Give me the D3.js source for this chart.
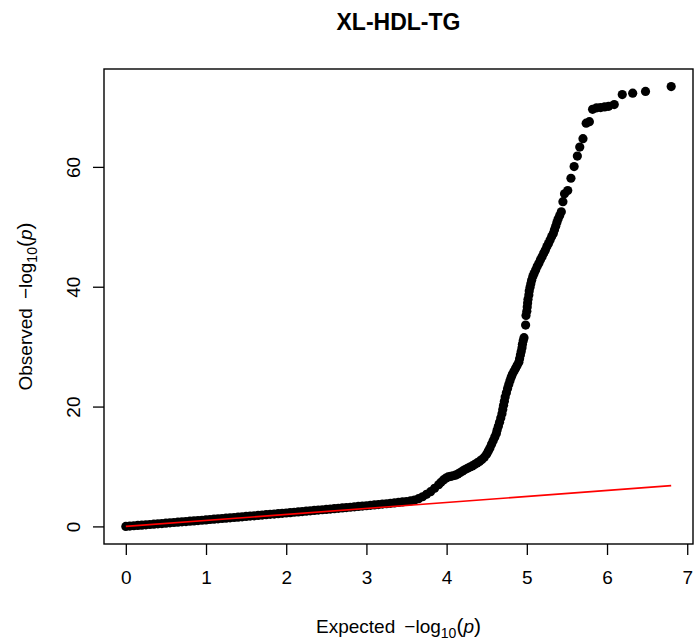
<!DOCTYPE html>
<html>
<head>
<meta charset="utf-8">
<script src="https://cdn.jsdelivr.net/npm/d3@7"></script>
<style>
  html, body { margin: 0; padding: 0; background: #fff; }
  svg { display: block; font-family: "Liberation Sans", Arial, Helvetica, sans-serif; }
</style>
</head>
<body>
<svg id="chart" width="696" height="641"></svg>
<script>
// QQ plot of association p-values: expected vs observed -log10(p)
const chartTitle = "XL-HDL-TG";

const expected = [
  0.00, 0.05, 0.10, 0.15, 0.20, 0.25, 0.30, 0.35, 0.40, 0.45,
  0.50, 0.55, 0.60, 0.65, 0.70, 0.75, 0.80, 0.85, 0.90, 0.95,
  1.00, 1.05, 1.10, 1.15, 1.20, 1.25, 1.30, 1.35, 1.40, 1.45,
  1.50, 1.55, 1.60, 1.65, 1.70, 1.75, 1.80, 1.85, 1.90, 1.95,
  2.00, 2.05, 2.10, 2.15, 2.20, 2.25, 2.30, 2.35, 2.40, 2.45,
  2.50, 2.55, 2.60, 2.65, 2.70, 2.75, 2.80, 2.85, 2.90, 2.95,
  3.00, 3.05, 3.10, 3.15, 3.20, 3.25, 3.30, 3.35, 3.40, 3.45,
  3.50, 3.55, 3.60, 3.65, 3.70, 3.75, 3.80, 3.85, 3.90, 3.93,
  3.96, 3.99, 4.02, 4.05, 4.08, 4.11, 4.14, 4.17, 4.20, 4.23,
  4.26, 4.29, 4.32, 4.35, 4.38, 4.41, 4.44, 4.47, 4.50, 4.52,
  4.54, 4.56, 4.58, 4.60, 4.62, 4.63, 4.645, 4.66, 4.675, 4.69,
  4.70, 4.71, 4.72, 4.73, 4.745, 4.76, 4.775, 4.79, 4.805, 4.82,
  4.84, 4.86, 4.88, 4.90, 4.91, 4.92, 4.93, 4.94, 4.945, 4.955,
  4.965, 4.985, 4.99, 5.00, 5.005, 5.01, 5.015, 5.025, 5.03, 5.04,
  5.05, 5.06, 5.075, 5.09, 5.11, 5.13, 5.15, 5.17, 5.19, 5.21,
  5.23, 5.25, 5.27, 5.29, 5.31, 5.33, 5.345, 5.36, 5.375, 5.39,
  5.41, 5.43, 5.45, 5.47, 5.51, 5.55, 5.59, 5.63, 5.66, 5.70,
  5.74, 5.78, 5.82, 5.87, 5.92, 5.97, 6.02, 6.09, 6.19, 6.32,
  6.48, 6.80
];

const observed = [
  0.00, 0.05, 0.11, 0.16, 0.21, 0.27, 0.32, 0.38, 0.43, 0.48,
  0.54, 0.59, 0.65, 0.70, 0.76, 0.81, 0.87, 0.92, 0.98, 1.03,
  1.09, 1.15, 1.20, 1.26, 1.32, 1.37, 1.43, 1.49, 1.54, 1.60,
  1.66, 1.72, 1.77, 1.83, 1.89, 1.95, 2.01, 2.06, 2.12, 2.18,
  2.24, 2.30, 2.36, 2.42, 2.48, 2.54, 2.60, 2.66, 2.72, 2.78,
  2.84, 2.90, 2.96, 3.02, 3.08, 3.14, 3.20, 3.27, 3.33, 3.39,
  3.45, 3.52, 3.58, 3.65, 3.72, 3.78, 3.85, 3.92, 4.00, 4.08,
  4.16, 4.26, 4.40, 4.62, 4.95, 5.35, 5.80, 6.35, 6.95, 7.35,
  7.75, 8.05, 8.25, 8.35, 8.45, 8.55, 8.75, 9.00, 9.25, 9.50,
  9.70, 9.90, 10.10, 10.35, 10.60, 10.85, 11.15, 11.55, 12.10, 12.60,
  13.10, 13.70, 14.30, 14.90, 15.50, 16.10, 16.70, 17.40, 18.10, 18.80,
  19.50, 20.20, 20.90, 21.60, 22.30, 23.00, 23.70, 24.30, 24.90, 25.40,
  25.90, 26.40, 26.90, 27.40, 28.00, 28.60, 29.20, 29.80, 30.40, 31.00,
  31.50, 33.60, 35.20, 35.90, 36.60, 37.30, 37.90, 38.60, 39.30, 39.90,
  40.50, 41.10, 41.70, 42.20, 42.80, 43.40, 43.90, 44.50, 45.00, 45.60,
  46.10, 46.70, 47.20, 47.80, 48.40, 48.90, 49.50, 50.10, 50.70, 51.30,
  51.90, 52.50, 54.20, 55.50, 56.05, 58.10, 60.05, 61.80, 63.30, 64.70,
  67.30, 67.55, 69.60, 69.85, 69.90, 70.00, 70.10, 70.40, 72.06, 72.30,
  72.60, 73.40
];

const xTicks = [0, 1, 2, 3, 4, 5, 6, 7];
const yTicks = [0, 20, 40, 60];

const svg = d3.select("#chart");
const plot = { left: 104, right: 693, top: 69, bottom: 544 };

// R-style axis ranges: data extent padded by 4% on each side
const xMax = d3.max(expected), yMax = d3.max(observed);
const x = d3.scaleLinear()
  .domain([-0.04 * xMax, 1.04 * xMax])
  .range([plot.left, plot.right]);
const y = d3.scaleLinear()
  .domain([-0.04 * yMax, 1.04 * yMax])
  .range([plot.bottom, plot.top]);

// points
const pts = d3.zip(expected, observed);
svg.append("g")
  .selectAll("circle")
  .data(pts)
  .join("circle")
  .attr("cx", d => x(d[0]))
  .attr("cy", d => y(d[1]))
  .attr("r", 4.6)
  .attr("fill", "#000");

// y = x reference line up to the largest expected value
const refLine = [[0, 0], [xMax, xMax]];
svg.append("path")
  .datum(refLine)
  .attr("d", d3.line().x(d => x(d[0])).y(d => y(d[1])))
  .attr("stroke", "#ff0000")
  .attr("stroke-width", 1.6)
  .attr("fill", "none");

// frame
svg.append("rect")
  .attr("x", plot.left).attr("y", plot.top)
  .attr("width", plot.right - plot.left)
  .attr("height", plot.bottom - plot.top)
  .attr("fill", "none")
  .attr("stroke", "#000")
  .attr("stroke-width", 1.4);

// x axis
const gx = svg.append("g")
  .attr("transform", `translate(0,${plot.bottom})`)
  .call(d3.axisBottom(x).tickValues(xTicks).tickFormat(d3.format("d")).tickSize(11).tickSizeOuter(0));
gx.select(".domain").remove();
gx.selectAll(".tick line").attr("stroke", "#000").attr("stroke-width", 1.3);
gx.selectAll(".tick text")
  .attr("y", 40).attr("dy", null)
  .attr("fill", "#000")
  .style("font-size", "19px")
  .style("font-family", "'Liberation Sans', Arial, sans-serif");

// y axis with labels parallel to the axis
const gy = svg.append("g")
  .attr("transform", `translate(${plot.left},0)`)
  .call(d3.axisLeft(y).tickValues(yTicks).tickFormat(d3.format("d")).tickSize(11).tickSizeOuter(0));
gy.select(".domain").remove();
gy.selectAll(".tick line").attr("stroke", "#000").attr("stroke-width", 1.3);
gy.selectAll(".tick text")
  .attr("x", null).attr("dy", null)
  .attr("transform", "translate(-24,0) rotate(-90)")
  .attr("text-anchor", "middle")
  .attr("fill", "#000")
  .style("font-size", "19px")
  .style("font-family", "'Liberation Sans', Arial, sans-serif");

// title
svg.append("text")
  .attr("x", (plot.left + plot.right) / 2)
  .attr("y", 30)
  .attr("text-anchor", "middle")
  .style("font-size", "23px")
  .style("font-weight", "bold")
  .text(chartTitle);

// axis titles:  <word>  -log10(p)
function axisTitle(sel, word) {
  sel.attr("text-anchor", "middle").style("font-size", "19px");
  sel.append("tspan").text(word + " \u2009\u2212log");
  sel.append("tspan").attr("dy", 5).style("font-size", "14px").text("10");
  sel.append("tspan").attr("dy", -5).style("font-size", "21px").text("(");
  sel.append("tspan").style("font-style", "italic").text("p");
  sel.append("tspan").style("font-size", "21px").text(")");
}

axisTitle(svg.append("text")
  .attr("x", (plot.left + plot.right) / 2)
  .attr("y", 633), "Expected");

axisTitle(svg.append("text")
  .attr("transform", `translate(32,${(plot.top + plot.bottom) / 2}) rotate(-90)`), "Observed");
</script>
</body>
</html>
